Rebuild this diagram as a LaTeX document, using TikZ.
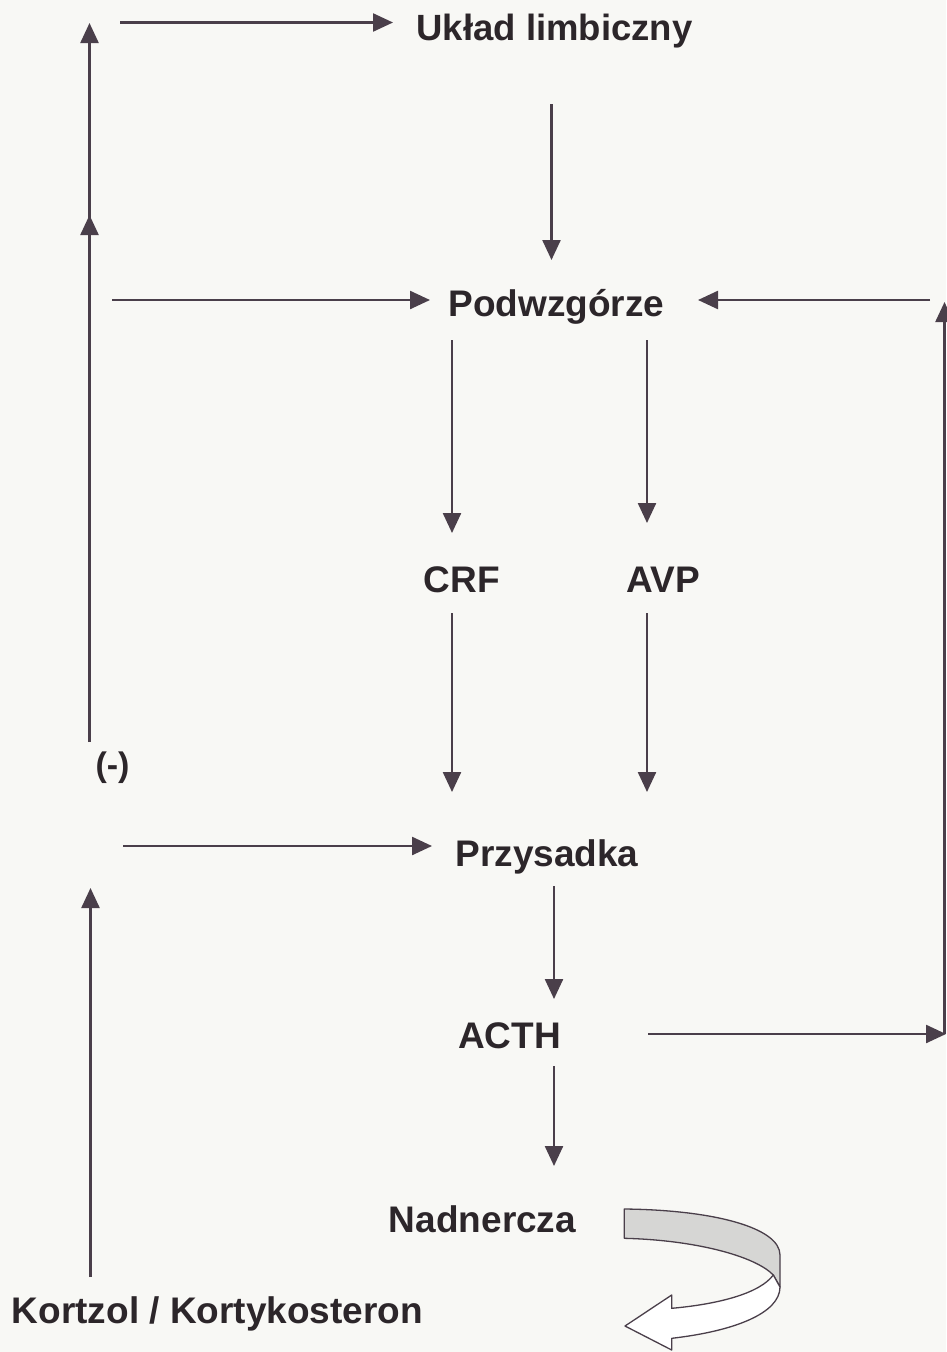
\documentclass[tikz,border=0pt]{standalone}
\usepackage{fontspec}
\setmainfont{Liberation Sans}
\usetikzlibrary{arrows.meta}
\definecolor{bgc}{RGB}{248,248,245}
\definecolor{linec}{RGB}{74,63,74}
\definecolor{txtc}{RGB}{44,38,42}
\definecolor{bandc}{RGB}{214,214,212}
\begin{document}
\begin{tikzpicture}[x=1pt,y=-1pt,
  lab/.style={font=\bfseries\fontsize{37}{43}\selectfont, text=txtc, inner sep=0pt, anchor=base},
  arr/.style={draw=linec, line width=2.4pt, -{Triangle[length=20pt,width=18pt]}},
  band/.style={draw=linec, line width=1.3pt, line join=round}]
\fill[bgc] (0,0) rectangle (946,1352);
\useasboundingbox (0,0) rectangle (946,1352);

% texts
\node[lab, font=\bfseries\fontsize{36.5}{42}\selectfont] (uklad) at (554.5,40) {Układ limbiczny};
\node[lab] (podw) at (556.5,316) {Podwzgórze};
\node[lab] (crf) at (462,592) {CRF};
\node[lab] (avp) at (663.5,592) {AVP};
\node[lab, font=\bfseries\fontsize{34}{40}\selectfont] (minus) at (112.5,776) {(-)};
\node[lab] (przy) at (547,866) {Przysadka};
\node[lab] (acth) at (509.5,1048) {ACTH};
\node[lab] (nadn) at (482.5,1232) {Nadnercza};
\node[lab] (kort) at (217.5,1323) {Kortzol / Kortykosteron};

% connector end points
\coordinate (t1s) at (120,22.5);   \coordinate (t1e) at (393,22.5);
\coordinate (l1s) at (89.5,742);   \coordinate (l1m) at (89.5,215);
\coordinate (l1n) at (89.5,232);   \coordinate (l1e) at (89.5,23);
\coordinate (h2s) at (112,300);    \coordinate (h2e) at (430,300);
\coordinate (u1s) at (551.5,104);  \coordinate (u1e) at (551.5,260);
\coordinate (r1s) at (930,300);    \coordinate (r1e) at (698,300);
\coordinate (rvs) at (944.5,1034); \coordinate (rve) at (944.5,302);
\coordinate (a1s) at (648,1034);   \coordinate (a1e) at (946,1034);
\coordinate (c1s) at (452,340);    \coordinate (c1e) at (452,533);
\coordinate (v1s) at (647,340);    \coordinate (v1e) at (647,523);
\coordinate (c2s) at (452,613);    \coordinate (c2e) at (452,792);
\coordinate (v2s) at (647,613);    \coordinate (v2e) at (647,792);
\coordinate (h3s) at (123,846);    \coordinate (h3e) at (432,846);
\coordinate (l2s) at (90.5,1277);  \coordinate (l2e) at (90.5,888);
\coordinate (p1s) at (554,886);    \coordinate (p1e) at (554,999);
\coordinate (n1s) at (554,1066);   \coordinate (n1e) at (554,1166);

% connectors
\draw[arr] (t1s) -- (t1e);
\draw[arr] (l1s) -- (l1m);
\draw[arr] (l1n) -- (l1e);
\draw[arr] (h2s) -- (h2e);
\draw[arr] (u1s) -- (u1e);
\draw[arr] (r1s) -- (r1e);
\draw[arr] (rvs) -- (rve);
\draw[arr] (a1s) -- (a1e);
\draw[arr] (c1s) -- (c1e);
\draw[arr] (v1s) -- (v1e);
\draw[arr] (c2s) -- (c2e);
\draw[arr] (v2s) -- (v2e);
\draw[arr] (h3s) -- (h3e);
\draw[arr] (l2s) -- (l2e);
\draw[arr] (p1s) -- (p1e);
\draw[arr] (n1s) -- (n1e);

% curved band arrow
\filldraw[band, fill=bandc] (624.3,1209) .. controls (715,1210) and (780,1228) .. (780,1255)
  -- (780,1287) -- (773.3,1275) .. controls (755,1256) and (695,1240) .. (624.3,1238.3) -- cycle;
\filldraw[band, fill=white] (773.3,1275) .. controls (760,1293) and (720,1304) .. (671.7,1308.3)
  -- (671.7,1295) -- (625,1326) -- (671.7,1350) -- (671.7,1338.3)
  .. controls (735,1331) and (780,1313) .. (780,1287) -- cycle;
\end{tikzpicture}
\end{document}
